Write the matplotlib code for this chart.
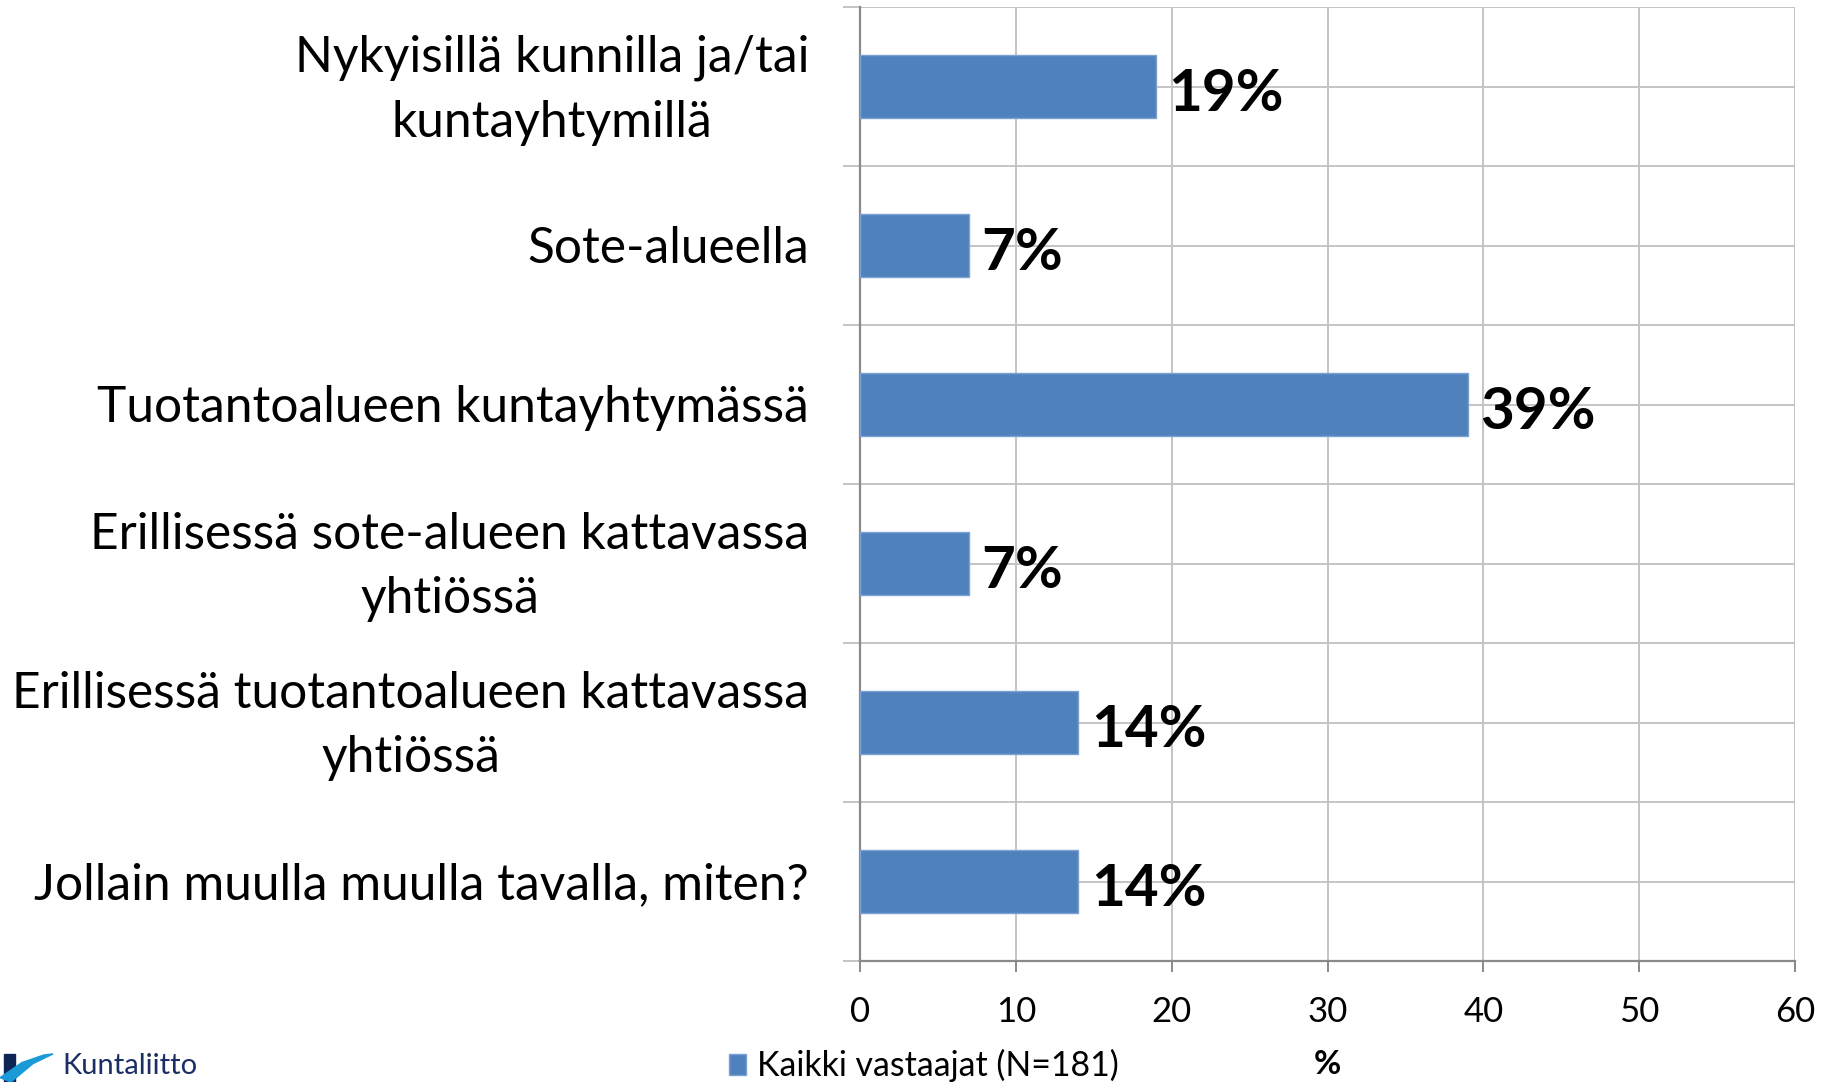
import matplotlib
matplotlib.use('Agg')
import matplotlib.pyplot as plt
from matplotlib.patches import Rectangle, Polygon
import numpy as np

# data
categories = ['Nykyisillä kunnilla ja/tai\nkuntayhtymillä',
              'Sote-alueella',
              'Tuotantoalueen kuntayhtymässä',
              'Erillisessä sote-alueen kattavassa\nyhtiössä',
              'Erillisessä tuotantoalueen kattavassa\nyhtiössä',
              'Jollain muulla muulla tavalla, miten?']
values = [19, 7, 39, 7, 14, 14]
series_name = 'Kaikki vastaajat (N=181)'
x_ticks = [0, 10, 20, 30, 40, 50, 60]

plt.rcParams['font.family'] = ['Lato', 'DejaVu Sans']

fig = plt.figure(figsize=(18.33, 10.82), dpi=100)
ax = fig.add_axes([0.4692, 0.1118, 0.5101, 0.8817])

y = np.arange(len(categories))
bars = ax.barh(y, values, height=0.4, color='#4F81BD', edgecolor='#7DA2D2',
               linewidth=1, label=series_name, zorder=3)

ax.set_xlim(0, 60)
ax.set_ylim(len(categories) - 0.5, -0.5)
ax.set_xticks(x_ticks)
ax.set_yticks(y)
ax.set_yticklabels([])
ax.set_yticks(np.arange(len(categories) + 1) - 0.5, minor=True)

# 类别标签: 居中多行
for yi, cat in zip(y, categories):
    ax.annotate(cat, xy=(0, yi), xycoords=('axes fraction', 'data'),
                xytext=(-36.7, -2.5), textcoords='offset points',
                ha='right', va='center', multialignment='center',
                fontsize=35.7, linespacing=1.5, annotation_clip=False)

# 网格线: 类别中心和分界线都有
ax.grid(True, which='major', color='#c4c4c4', linewidth=1.4, zorder=0)
ax.grid(True, which='minor', axis='y', color='#c4c4c4', linewidth=1.4, zorder=0)

ax.tick_params(axis='y', which='major', length=0)
ax.tick_params(axis='y', which='minor', length=12.5, width=1.4, color='#c4c4c4')
ax.tick_params(axis='x', which='major', length=8, width=1.4, color='#8a8a8a',
               labelsize=25, pad=17)

for s in ['top', 'right']:
    ax.spines[s].set_visible(False)
for s in ['left', 'bottom']:
    ax.spines[s].set_color('#8a8a8a')
    ax.spines[s].set_linewidth(1.6)

anns = ax.bar_label(bars, labels=[f'{v}%' for v in values], padding=9,
                    fontsize=42, fontweight='bold')
for a in anns:
    a.set_position((9, -6))

ax.set_xlabel('%', fontsize=24, fontweight='bold', labelpad=16)

ax.legend(loc='center left', bbox_to_anchor=(0.3975, 0.0150),
          bbox_transform=fig.transFigure, frameon=False, fontsize=24.4,
          handlelength=0.5, handleheight=0.6, handletextpad=0.35,
          borderpad=0, borderaxespad=0)

# 左下角的标志
fig.patches.append(Rectangle((0.002, 0.0), 0.006, 0.026, transform=fig.transFigure,
                             color='#0d2454', figure=fig))
fig.patches.append(Polygon([(0.0, 0.004), (0.012, 0.018), (0.024, 0.025),
                            (0.029, 0.026), (0.018, 0.017), (0.006, 0.0)],
                           closed=True, transform=fig.transFigure,
                           color='#1a9ad6', figure=fig))
fig.text(0.034, 0.003, 'Kuntaliitto', fontsize=21, color='#1b2f66',
         ha='left', va='bottom')

fig.savefig('out.png', dpi=100)
